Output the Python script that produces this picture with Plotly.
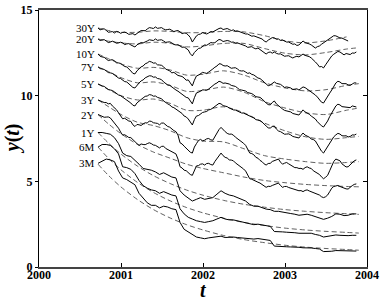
import plotly.graph_objects as go

# observation dates (years): fine grid for 30Y..2Y, coarser grid for the short rates
t = [round(2000.72 + 0.025 * i, 3) for i in range(127)]
t_short = [round(2000.72 + 0.05 * i, 2) for i in range(64)]

labels = ["30Y", "20Y", "10Y", "7Y", "5Y", "3Y", "2Y", "1Y", "6M", "3M"]

y30 = [13.95,13.84,13.89,13.90,13.81,13.70,13.72,13.74,13.66,13.75,
       13.72,13.64,13.69,13.71,13.66,13.58,13.60,13.62,13.54,13.66,
       13.72,13.80,13.78,13.79,13.89,13.97,13.95,13.92,14.01,13.93,
       13.95,13.97,13.89,13.84,13.86,13.88,13.81,13.74,13.78,13.80,
       13.72,13.62,13.66,13.64,13.54,13.40,13.13,13.35,13.49,13.57,
       13.60,13.68,13.66,13.60,13.66,13.74,13.72,13.80,13.84,13.92,
       13.95,13.86,13.89,13.92,13.86,13.80,13.84,13.77,13.78,13.73,
       13.72,13.65,13.60,13.60,13.54,13.47,13.49,13.45,13.37,13.36,
       13.31,13.20,13.13,13.24,13.31,13.39,13.37,13.30,13.31,13.22,
       13.25,13.18,13.13,13.13,13.08,13.00,13.02,12.93,12.96,13.08,
       13.19,13.10,13.08,13.02,12.96,12.86,12.78,12.86,12.90,13.00,
       13.08,13.19,13.25,13.36,13.43,13.50,13.49,13.41,13.37,13.36,
       13.31,13.22,13.19]
y20 = [13.31,13.22,13.25,13.27,13.19,13.10,13.13,13.18,13.13,13.06,
       13.08,13.12,13.08,12.98,13.02,13.04,12.96,12.88,12.84,12.97,
       13.02,13.10,13.08,13.16,13.19,13.26,13.25,13.22,13.31,13.23,
       13.25,13.26,13.19,13.11,13.13,13.14,13.08,12.99,12.96,12.97,
       12.90,12.82,12.84,12.74,12.67,12.45,12.32,12.52,12.67,12.76,
       12.78,12.90,12.96,12.94,13.02,13.10,13.08,13.09,13.19,13.28,
       13.25,13.16,13.19,13.22,13.19,13.12,13.13,13.06,13.08,13.04,
       12.96,12.95,12.90,12.82,12.84,12.86,12.78,12.73,12.78,12.70,
       12.61,12.50,12.43,12.52,12.55,12.48,12.55,12.47,12.43,12.44,
       12.38,12.30,12.32,12.33,12.26,12.20,12.26,12.30,12.26,12.36,
       12.43,12.35,12.32,12.28,12.20,12.10,11.97,11.84,11.68,11.70,
       11.62,11.80,11.97,12.18,12.32,12.42,12.49,12.58,12.55,12.44,
       12.38,12.46,12.43,12.40,12.49,12.48,12.55]
y10 = [12.43,12.30,12.26,12.24,12.14,12.05,12.08,12.10,12.03,11.92,
       11.91,11.88,11.79,11.70,11.68,11.58,11.44,11.30,11.27,11.45,
       11.56,11.68,11.73,11.86,11.91,12.00,11.97,11.90,11.91,11.80,
       11.79,11.77,11.68,11.55,11.50,11.44,11.33,11.36,11.27,11.18,
       11.15,11.12,11.03,10.90,10.92,10.75,10.57,10.90,11.15,11.20,
       11.27,11.36,11.33,11.30,11.38,11.50,11.56,11.66,11.73,11.86,
       11.85,11.76,11.73,11.75,11.68,11.60,11.62,11.63,11.56,11.46,
       11.44,11.45,11.38,11.30,11.33,11.24,11.21,11.10,11.03,11.00,
       10.92,10.80,10.68,10.58,10.62,10.74,10.80,10.72,10.68,10.66,
       10.57,10.48,10.51,10.50,10.45,10.36,10.39,10.40,10.33,10.44,
       10.51,10.47,10.39,10.33,10.22,10.12,10.04,9.92,9.75,9.62,
       9.57,9.74,9.92,10.15,10.33,10.58,10.74,10.84,10.80,10.70,
       10.68,10.70,10.62,10.60,10.68,10.75,10.74]
y7 = [11.68,11.58,11.56,11.53,11.44,11.35,11.33,11.30,11.21,11.10,
      11.03,11.00,10.92,10.82,10.80,10.68,10.62,10.48,10.45,10.62,
      10.74,10.86,10.92,11.04,11.09,11.16,11.15,11.08,11.09,11.00,
      10.98,10.93,10.80,10.68,10.62,10.60,10.51,10.38,10.33,10.26,
      10.16,10.10,9.98,9.90,9.87,9.70,9.52,9.88,10.16,10.20,
      10.27,10.34,10.33,10.32,10.39,10.50,10.57,10.68,10.74,10.84,
      10.80,10.72,10.74,10.73,10.68,10.60,10.57,10.54,10.45,10.35,
      10.33,10.32,10.27,10.18,10.16,10.12,10.04,9.94,9.92,9.90,
      9.81,9.66,9.57,9.48,9.46,9.60,9.69,9.52,9.40,9.33,
      9.22,9.14,9.11,9.10,9.05,8.96,8.93,8.92,8.87,9.02,
      9.17,9.05,8.99,8.92,8.81,8.74,8.64,8.48,8.35,8.24,
      8.17,8.32,8.52,8.78,8.99,9.22,9.40,9.50,9.46,9.36,
      9.34,9.33,9.28,9.30,9.40,9.36,9.34]
y5 = [10.68,10.60,10.57,10.54,10.45,10.36,10.33,10.30,10.22,10.10,
      10.04,10.00,9.92,9.80,9.75,9.64,9.57,9.44,9.40,9.58,
      9.69,9.80,9.87,9.96,9.98,10.06,10.04,9.97,9.98,9.90,
      9.87,9.82,9.69,9.58,9.52,9.46,9.34,9.30,9.22,9.14,
      9.05,8.96,8.81,8.76,8.64,8.42,8.29,8.60,8.81,8.84,
      8.93,9.02,9.05,9.08,9.17,9.20,9.28,9.40,9.46,9.55,
      9.52,9.42,9.40,9.36,9.28,9.20,9.17,9.16,9.11,9.02,
      8.99,8.98,8.93,8.84,8.81,8.78,8.70,8.60,8.58,8.55,
      8.46,8.32,8.23,8.12,8.11,8.20,8.23,8.05,7.94,7.90,
      7.82,7.75,7.76,7.77,7.71,7.62,7.59,7.58,7.53,7.68,
      7.82,7.70,7.65,7.58,7.47,7.44,7.36,7.14,6.95,6.76,
      6.65,6.84,7.01,7.24,7.41,7.60,7.71,7.80,7.76,7.66,
      7.65,7.66,7.59,7.62,7.71,7.70,7.76]
y3 = [9.75,9.72,9.65,9.60,9.60,9.52,9.55,9.40,9.30,9.18,
      9.00,8.78,8.65,8.68,8.60,8.52,8.50,8.30,8.20,8.32,
      8.30,8.26,8.35,8.42,8.40,8.52,8.50,8.42,8.40,8.38,
      8.30,8.40,8.40,8.28,8.20,8.16,8.05,7.96,7.90,7.70,
      7.25,7.18,7.05,6.92,6.85,6.70,6.65,7.00,7.20,7.38,
      7.45,7.36,7.40,7.48,7.50,7.42,7.40,7.62,7.80,8.02,
      8.15,8.00,7.90,7.80,7.75,7.76,7.70,7.58,7.50,7.42,
      7.30,7.22,7.10,6.86,6.65,6.62,6.55,6.40,6.35,6.22,
      6.15,6.02,5.95,6.04,6.05,6.16,6.20,6.28,6.30,6.12,
      6.00,6.06,6.10,6.02,5.95,5.86,5.80,5.80,5.75,5.76,
      5.70,5.80,5.85,5.78,5.75,5.62,5.55,5.48,5.40,5.26,
      5.15,5.24,5.35,5.62,5.90,6.16,6.30,6.26,6.20,6.02,
      5.90,5.84,5.85,5.98,6.10,6.20,6.25]
y2 = [8.90,8.86,8.80,8.74,8.75,8.76,8.70,8.56,8.40,8.28,
      8.10,7.88,7.70,7.72,7.65,7.56,7.55,7.42,7.35,7.20,
      7.10,7.18,7.15,7.14,7.20,7.25,7.20,7.12,7.10,7.04,
      6.95,7.04,7.05,6.92,6.85,6.80,6.70,6.68,6.60,6.30,
      5.85,5.78,5.65,5.62,5.50,5.40,5.35,5.62,5.90,5.92,
      6.00,6.02,5.95,6.04,6.05,5.98,5.95,6.16,6.35,6.52,
      6.65,6.50,6.40,6.36,6.25,6.24,6.20,6.08,6.00,5.92,
      5.80,5.72,5.60,5.38,5.15,5.12,5.05,4.98,4.95,4.90,
      4.80,4.70,4.65,4.71,4.70,4.76,4.80,4.86,4.90,4.76,
      4.65,4.70,4.70,4.64,4.60,4.56,4.50,4.50,4.45,4.46,
      4.40,4.47,4.50,4.44,4.40,4.36,4.30,4.26,4.20,4.10,
      4.05,4.10,4.20,4.40,4.60,4.70,4.75,4.76,4.70,4.64,
      4.60,4.56,4.55,4.66,4.75,4.82,4.85]
y1 = [7.85,7.85,7.80,7.75,7.55,7.20,6.65,6.50,6.45,6.25,
      6.00,5.75,5.70,5.65,5.55,5.40,5.50,5.35,5.25,5.20,
      4.45,4.20,4.00,3.85,3.95,4.05,3.95,4.00,4.05,4.25,
      4.45,4.30,4.20,4.15,4.05,3.95,3.85,3.65,3.55,3.55,
      3.45,3.38,3.35,3.25,3.25,3.22,3.18,3.12,3.08,3.02,
      3.05,3.08,3.02,2.95,2.88,2.78,2.85,2.95,3.10,3.08,
      3.00,3.02,3.10,3.10]
y6m = [7.00,7.15,7.15,7.10,6.90,6.60,5.85,5.80,5.70,5.45,
       5.05,4.75,4.60,4.50,4.45,4.30,4.40,4.30,4.20,4.15,
       3.40,3.10,2.90,2.80,2.70,2.65,2.60,2.65,2.70,2.80,
       2.90,2.80,2.75,2.75,2.70,2.65,2.60,2.55,2.47,2.50,
       2.45,2.40,2.37,2.07,2.08,2.05,2.03,2.03,2.00,1.97,
       1.97,2.00,1.97,1.90,1.85,1.75,1.80,1.83,1.87,1.85,
       1.83,1.83,1.85,1.85]
y3m = [6.05,6.20,6.30,6.25,6.15,5.60,5.20,5.10,4.95,4.80,
       4.30,4.00,3.75,3.60,3.60,3.45,3.55,3.50,3.40,3.35,
       2.60,2.20,2.05,1.90,1.75,1.70,1.65,1.70,1.72,1.75,
       1.80,1.72,1.75,1.75,1.72,1.70,1.70,1.68,1.63,1.66,
       1.63,1.60,1.55,1.22,1.22,1.20,1.18,1.17,1.17,1.15,
       1.12,1.13,1.11,1.08,1.05,0.90,0.90,0.92,0.96,0.96,
       0.94,0.92,0.94,0.93]

# fitted (dashed) curves
t_fit = [2000.72, 2000.85, 2001.0, 2001.2, 2001.4, 2001.6, 2001.8, 2002.0,
         2002.25, 2002.5, 2002.75, 2003.0, 2003.25, 2003.5, 2003.75, 2003.9]
f30 = [13.95,13.80,13.70,13.70,13.78,13.75,13.68,13.68,13.75,13.72,13.50,13.20,13.08,13.20,13.43]
f20 = [13.31,13.18,13.08,13.02,13.12,13.05,12.85,12.90,13.05,13.05,12.75,12.48,12.38,12.52,12.72,12.80]
f10 = [12.43,12.15,11.85,11.60,11.65,11.50,11.20,11.25,11.45,11.20,10.75,10.45,10.28,10.35,10.60,10.70]
f7 = [11.68,11.40,11.05,10.75,10.80,10.60,10.25,10.30,10.50,10.20,9.65,9.28,9.00,8.90,9.15,9.28]
f5 = [10.68,10.35,10.00,9.75,9.80,9.55,9.15,9.15,9.35,9.00,8.40,7.95,7.60,7.45,7.55,7.62]
f3 = [9.75,9.35,8.90,8.45,8.25,7.95,7.55,7.35,7.30,6.90,6.50,6.30,6.15,6.05,6.10,6.15]
f2 = [8.90,8.34,7.78,7.16,6.70,6.35,6.00,5.75,5.50,5.25,5.05,4.92,4.82,4.75,4.70,4.68]
f1 = [7.85,7.22,6.59,5.89,5.32,4.87,4.49,4.19,3.89,3.66,3.49,3.35,3.25,3.17,3.11,3.07]
f6m = [7.00,6.33,5.67,4.94,4.34,3.86,3.47,3.16,2.85,2.60,2.42,2.27,2.16,2.08,2.02,1.98]
f3m = [6.00,5.33,4.67,3.94,3.34,2.86,2.47,2.16,1.84,1.60,1.42,1.27,1.16,1.08,1.02,0.98]

x_ticks = [2000, 2001, 2002, 2003, 2004]
y_ticks = [0, 5, 10, 15]

solid = [y30, y20, y10, y7, y5, y3, y2, y1, y6m, y3m]
times = [t, t, t, t, t, t, t, t_short, t_short, t_short]
fits = [f30, f20, f10, f7, f5, f3, f2, f1, f6m, f3m]

SERIF = "Liberation Serif"
fig = go.Figure()
for name, ts, ys, fs in zip(labels, times, solid, fits):
    fig.add_trace(go.Scatter(x=t_fit[:len(fs)], y=fs, mode="lines",
                             line=dict(color="#444444", width=0.85, dash="5px,3px", shape="spline", smoothing=0.8),
                             showlegend=False, hoverinfo="skip"))
    fig.add_trace(go.Scatter(x=ts[:len(ys)], y=ys, mode="lines",
                             line=dict(color="black", width=1),
                             showlegend=False, hoverinfo="skip"))
    fig.add_annotation(x=ts[0], y=ys[0], text=name, xanchor="right", yanchor="middle",
                       xshift=-1, showarrow=False,
                       font=dict(family=SERIF, size=11, color="black"))

# invisible trace for right-side mirror ticks
fig.add_trace(go.Scatter(x=[2000], y=[0], yaxis="y2", mode="markers",
                         marker=dict(opacity=0), showlegend=False, hoverinfo="skip"))

tick_font = dict(family=SERIF, size=12, color="black", weight="bold")
fig.update_layout(
    width=382, height=302,
    margin=dict(l=39, r=15, t=10, b=35, autoexpand=False),
    paper_bgcolor="white", plot_bgcolor="white",
    xaxis=dict(range=[2000, 2004], tickvals=x_ticks, ticks="inside", ticklen=4,
               tickcolor="black", showline=True, linecolor="#444444", linewidth=1.5,
               mirror="ticks", showgrid=False, zeroline=False, tickfont=tick_font,
               ticklabelstandoff=-4, automargin=False),
    yaxis=dict(range=[0, 15], tickvals=y_ticks, ticks="outside", ticklen=3,
               tickcolor="black", showline=True, linecolor="black", linewidth=1,
               mirror=True, showgrid=False, zeroline=False, tickfont=tick_font,
               automargin=False),
    yaxis2=dict(range=[0, 15], overlaying="y", side="right", tickvals=[5, 10],
                ticks="inside", ticklen=4, tickcolor="black", showticklabels=False,
                showline=False, showgrid=False, zeroline=False, automargin=False),
)
fig.add_annotation(xref="paper", yref="paper", x=0.5, y=-0.09, text="<b><i>t</i></b>",
                   showarrow=False, yanchor="middle",
                   font=dict(family=SERIF, size=20, color="black"))
fig.add_annotation(xref="paper", yref="paper", x=-0.08, y=0.5,
                   text="<b><i>y</i>(<i>t</i>)</b>", textangle=-90, showarrow=False,
                   xanchor="center", yanchor="middle",
                   font=dict(family=SERIF, size=20, color="black"))

fig.write_html("out.html", config={"displayModeBar": False},
               post_script="document.body.style.margin='0';document.body.style.overflow='hidden';")
